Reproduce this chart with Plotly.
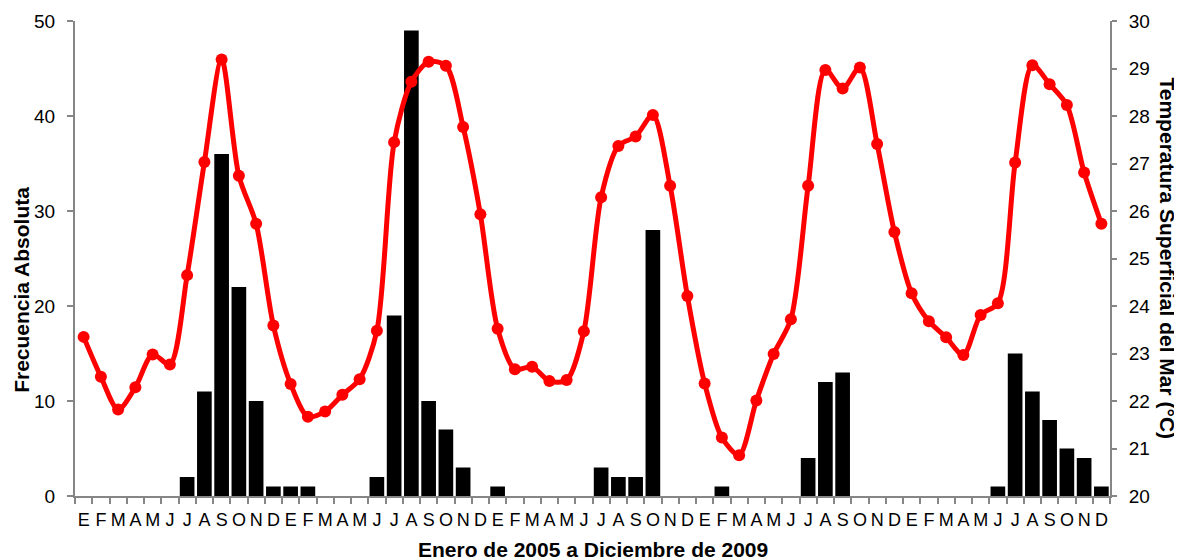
import plotly.graph_objects as go

months = ["E", "F", "M", "A", "M", "J", "J", "A", "S", "O", "N", "D"]
years = [2005, 2006, 2007, 2008, 2009]
tick_labels = months * len(years)

frecuencia = [
    0, 0, 0, 0, 0, 0, 2, 11, 36, 22, 10, 1,      # 2005
    1, 1, 0, 0, 0, 2, 19, 49, 10, 7, 3, 0,       # 2006
    1, 0, 0, 0, 0, 0, 3, 2, 2, 28, 0, 0,         # 2007
    0, 1, 0, 0, 0, 0, 4, 12, 13, 0, 0, 0,        # 2008
    0, 0, 0, 0, 0, 1, 15, 11, 8, 5, 4, 1,        # 2009
]

tsm = [
    23.35, 22.51, 21.82, 22.29, 22.98, 22.77, 24.65, 27.03, 29.19, 26.74, 25.73, 23.59,
    22.36, 21.67, 21.78, 22.13, 22.46, 23.48, 27.45, 28.72, 29.14, 29.06, 27.77, 25.93,
    23.52, 22.67, 22.72, 22.42, 22.44, 23.47, 26.29, 27.37, 27.57, 28.02, 26.53, 24.21,
    22.37, 21.23, 20.86, 22.01, 22.99, 23.72, 26.53, 28.97, 28.58, 29.02, 27.41, 25.56,
    24.27, 23.68, 23.34, 22.97, 23.81, 24.06, 27.02, 29.07, 28.67, 28.23, 26.81, 25.73,
]

x = list(range(len(frecuencia)))
FONT = "Liberation Sans, Arial, sans-serif"
GREY = "#868686"

fig = go.Figure()
fig.add_trace(go.Bar(
    x=x, y=frecuencia, width=0.85,
    marker=dict(color="black", line=dict(width=0)),
    yaxis="y", showlegend=False,
))
fig.add_trace(go.Scatter(
    x=x, y=tsm, mode="lines+markers",
    line=dict(color="#FF0000", width=5, shape="spline", smoothing=0.8),
    marker=dict(color="#FF0000", size=12),
    yaxis="y2", showlegend=False,
))

fig.update_layout(
    width=1174, height=552,
    margin=dict(l=67, r=72, t=13, b=64),
    paper_bgcolor="white", plot_bgcolor="white",
    font=dict(family=FONT, size=18, color="black"),
    xaxis=dict(
        range=[-0.5, 59.5], tickmode="array", tickvals=x, ticktext=tick_labels,
        ticks="", showline=True, linecolor=GREY, linewidth=2, showgrid=False,
        zeroline=False, tickfont=dict(size=18), automargin=False,
        ticklabelstandoff=6,
        minor=dict(ticks="outside", tick0=-0.5, dtick=1, ticklen=6,
                   tickcolor=GREY, tickwidth=2, showgrid=False),
    ),
    yaxis=dict(
        range=[0, 50], tickvals=[0, 10, 20, 30, 40, 50],
        ticks="outside", ticklen=6, tickcolor=GREY, tickwidth=2,
        showline=True, linecolor=GREY, linewidth=2, showgrid=False, zeroline=False,
        tickfont=dict(size=19), automargin=False, ticklabelstandoff=8,
    ),
    yaxis2=dict(
        range=[20, 30], tickvals=list(range(20, 31)), overlaying="y", side="right",
        ticks="outside", ticklen=5, tickcolor=GREY, tickwidth=2,
        showline=True, linecolor=GREY, linewidth=2, showgrid=False, zeroline=False,
        tickfont=dict(size=19), automargin=False, ticklabelstandoff=8,
    ),
    annotations=[
        dict(text="<b>Frecuencia Absoluta</b>", textangle=-90,
             xref="paper", yref="paper", x=0, y=0.434, xshift=-53,
             xanchor="center", yanchor="middle", showarrow=False,
             font=dict(size=21, family=FONT)),
        dict(text="<b>Temperatura Superficial del Mar (°C)</b>", textangle=90,
             xref="paper", yref="paper", x=1.0, y=0.5, xshift=57,
             xanchor="center", yanchor="middle", showarrow=False,
             font=dict(size=21, family=FONT)),
        dict(text="<b>Enero de 2005 a Diciembre de 2009</b>",
             xref="paper", yref="paper", x=0.5, y=0, yshift=-53,
             xanchor="center", yanchor="middle", showarrow=False,
             font=dict(size=21, family=FONT)),
    ],
)

fig.write_html("out.html")
